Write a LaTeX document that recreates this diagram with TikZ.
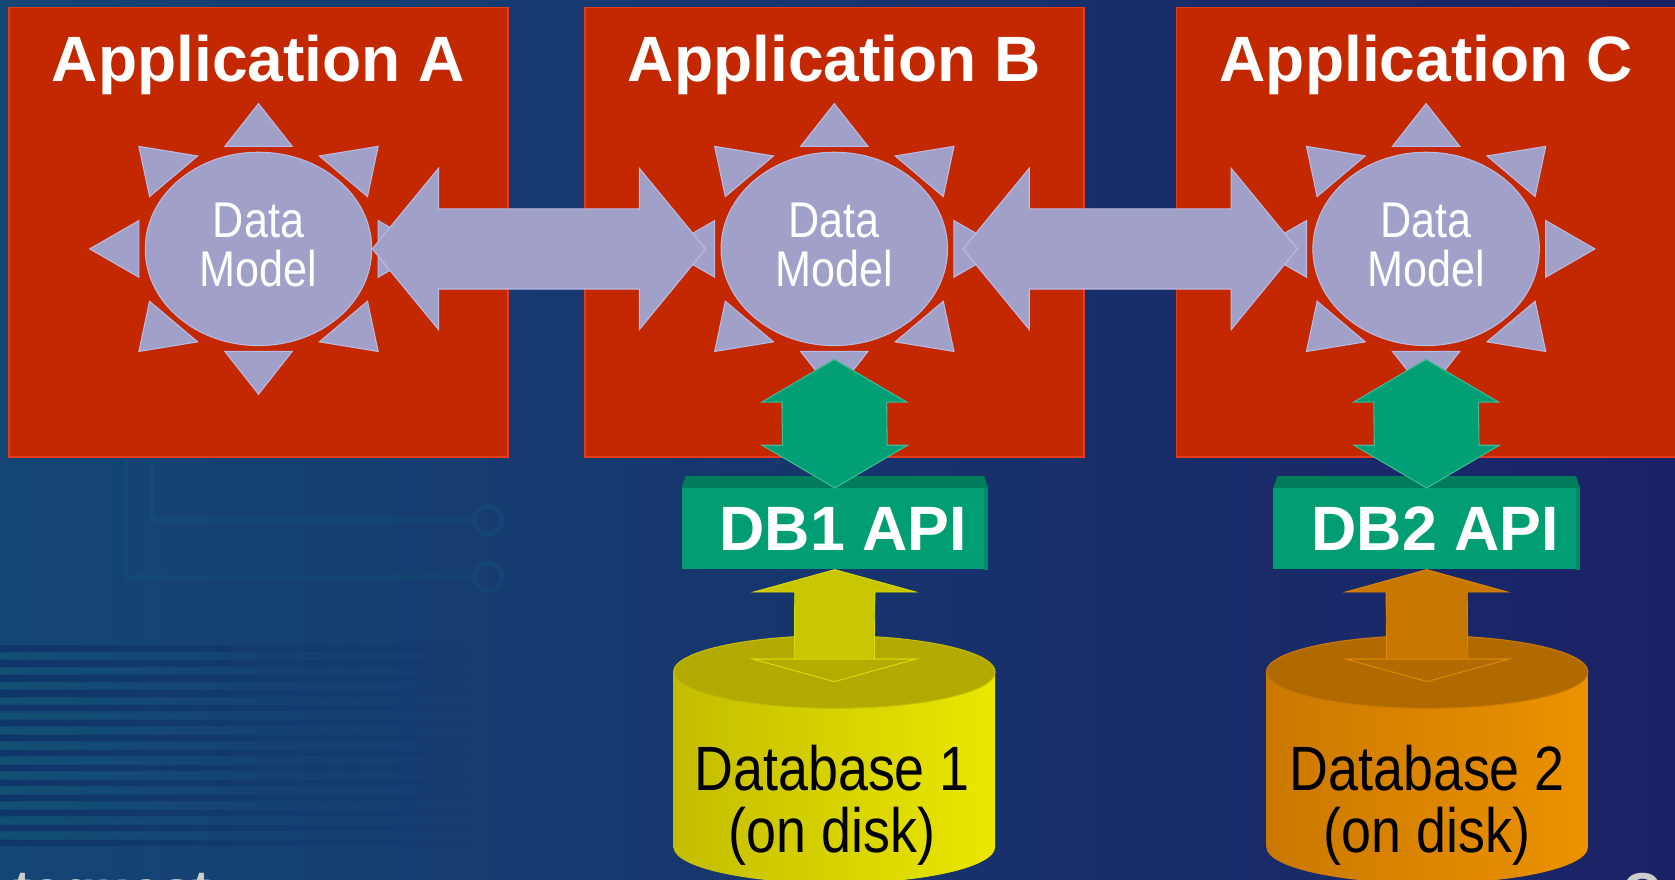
\documentclass[tikz,border=0pt]{standalone}
\usepackage{fontspec}
\setmainfont{Liberation Sans}
\newfontfamily\narrowfont[FakeStretch=0.86]{Liberation Sans}
\usetikzlibrary{shapes.geometric,calc,fadings}

\definecolor{bgleft}{RGB}{20,70,116}
\definecolor{bgright}{RGB}{26,34,102}
\definecolor{appred}{RGB}{196,40,0}
\definecolor{appedge}{RGB}{228,60,26}
\definecolor{lav}{RGB}{160,160,200}
\definecolor{lavedge}{RGB}{186,186,230}
\definecolor{apigreen}{RGB}{0,158,114}
\definecolor{apitop}{RGB}{0,124,90}
\definecolor{arrowgreen}{RGB}{0,160,116}
\definecolor{yelarrow}{RGB}{200,198,0}
\definecolor{yeltop}{RGB}{178,170,0}
\definecolor{yelside}{RGB}{196,188,0}
\definecolor{yellight}{RGB}{234,232,0}
\definecolor{orarrow}{RGB}{200,120,0}
\definecolor{ortop}{RGB}{176,106,0}
\definecolor{orside}{RGB}{202,120,0}
\definecolor{orlight}{RGB}{236,146,0}
\definecolor{stripeteal}{RGB}{16,96,116}
\definecolor{stripedark}{RGB}{8,26,84}
\definecolor{footgrey}{RGB}{205,205,205}

\begin{document}
\begin{tikzpicture}[x=1pt, y=-1pt,
  appbox/.style={fill=appred, draw=appedge, line width=1.5pt, minimum width=467pt, minimum height=421pt, inner sep=0pt},
  apptitle/.style={text=white, font=\fontsize{60}{72}\selectfont\bfseries, anchor=base, inner sep=0pt},
  model/.style={ellipse, fill=lav, draw=lavedge, line width=1pt, minimum width=212pt, minimum height=181pt,
    inner sep=0pt, text=white, align=center, text depth=7.5pt, font=\narrowfont\fontsize{47}{46}\selectfont},
  ray/.style={fill=lav, draw=lavedge, line width=1pt},
  lavarrow/.style={fill=lav, draw=lavedge, line width=1pt},
  apibox/.style={fill=apigreen, minimum width=287pt, minimum height=76pt, inner sep=0pt, text=white,
    font=\fontsize{58.7}{70}\selectfont\bfseries},
  dbtext/.style={align=center, inner sep=0pt, font=\narrowfont\fontsize{58.6}{58}\selectfont},
  hdarrow/.style n args={3}{to path={
    -- ($(\tikztostart)+(#1,-#2)$) -- ($(\tikztostart)+(#1,-#3)$)
    -- ($(\tikztotarget)+(-#1,-#3)$) -- ($(\tikztotarget)+(-#1,-#2)$)
    -- (\tikztotarget)
    -- ($(\tikztotarget)+(-#1,#2)$) -- ($(\tikztotarget)+(-#1,#3)$)
    -- ($(\tikztostart)+(#1,#3)$) -- ($(\tikztostart)+(#1,#2)$) -- cycle}},
  vdarrow/.style n args={3}{to path={
    -- ($(\tikztostart)+(#2,#1)$) -- ($(\tikztostart)+(#3,#1)$)
    -- ($(\tikztotarget)+(#3,-#1)$) -- ($(\tikztotarget)+(#2,-#1)$)
    -- (\tikztotarget)
    -- ($(\tikztotarget)+(-#2,-#1)$) -- ($(\tikztotarget)+(-#3,-#1)$)
    -- ($(\tikztostart)+(-#3,#1)$) -- ($(\tikztostart)+(-#2,#1)$) -- cycle}}]
\useasboundingbox (0,0) rectangle (1568,823);

% background
\shade[left color=bgleft, right color=bgright] (0,0) rectangle (1568,823);
\foreach \i in {0,...,13}
  \fill[stripedark, opacity=0.35, path fading=east] (0,604+14*\i) rectangle (440,610+14*\i);
\foreach \i in {0,...,12}
  \fill[stripeteal, opacity=0.4, path fading=east] (0,611+14*\i) rectangle (280,617+14*\i);
\draw[stripeteal, line width=4pt, opacity=0.25] (118,430) -- (118,540) -- (442,540) (457,540) circle[radius=13];
\draw[stripeteal, line width=4pt, opacity=0.25] (142,430) -- (142,487) -- (442,487) (457,487) circle[radius=13];

% application boxes
\node[appbox] (appA) at (242,217.5) {};
\node[appbox] (appB) at (781,217.5) {};
\node[appbox] (appC) at (1335,217.5) {};
\node[apptitle] (tA) at ($(appA.north)+(0,70)$) {Application A};
\node[apptitle] (tB) at ($(appB.north)+(0,70)$) {Application B};
\node[apptitle] (tC) at ($(appC.north)+(0,70)$) {Application C};

% data models
\node[model] (dmA) at (242,233) {Data\\Model};
\node[model] (dmB) at (781,233) {Data\\Model};
\node[model] (dmC) at (1335,233) {Data\\Model};
\foreach \m in {dmA,dmB,dmC}
  \foreach \sx in {-1,1} {
    \path[ray] ($(\m)+(\sx*112,-26.5)$) -- ($(\m)+(\sx*112,26.5)$) -- ($(\m)+(\sx*158,0)$) -- cycle;
    \path[ray] ($(\m)+(-31.5,\sx*96)$) -- ($(\m)+(31.5,\sx*96)$) -- ($(\m)+(0,\sx*136)$) -- cycle;
    \foreach \sy in {-1,1}
      \path[ray] ($(\m)+(\sx*112,\sy*96)$) -- ($(\m)+(\sx*57,\sy*87)$) -- ($(\m)+(\sx*102,\sy*49)$) -- cycle;
  }

% links between the models
\coordinate (abL) at (dmA.east);
\coordinate (abR) at ($(dmB.west)+(-14,0)$);
\coordinate (bcL) at ($(dmB.east)+(14,0)$);
\coordinate (bcR) at ($(dmC.west)+(-14,0)$);
\path[lavarrow] (abL) to[hdarrow={62}{75.5}{37.5}] (abR);
\path[lavarrow] (bcL) to[hdarrow={62}{75.5}{37.5}] (bcR);

% APIs
\node[apibox] (api1) at (781.5,495) {\hspace*{16pt}DB1 API};
\node[apibox] (api2) at (1335.5,495) {\hspace*{16pt}DB2 API};
\foreach \a in {api1,api2} {
  \fill[apitop] (\a.north west) -- ($(\a.north west)+(4,-11)$) -- ($(\a.north east)+(-4,-11)$) -- (\a.north east) -- cycle;
  \fill[apitop!60!apigreen] ($(\a.north east)+(-4,0)$) rectangle (\a.south east);
}
\coordinate (gB) at ($(dmB.south)+(0,12.5)$);
\coordinate (gC) at ($(dmC.south)+(0,12.5)$);
\path[fill=arrowgreen, draw=arrowgreen!75!white, line width=1pt] (gB) to[vdarrow={40}{68}{49}] (api1.north);
\path[fill=arrowgreen, draw=arrowgreen!75!white, line width=1pt] (gC) to[vdarrow={40}{68}{49}] (api2.north);

% databases
\coordinate (db1top) at (781,629);
\coordinate (db2top) at (1336,629);
\path[left color=yelside, right color=yellight] ($(db1top)+(-150.5,0)$) -- ++(0,164)
  .. controls ++(0,18.8) and ($(db1top)+(-83.1,198)$) .. ($(db1top)+(0,198)$)
  .. controls ($(db1top)+(83.1,198)$) and ($(db1top)+(150.5,182.8)$) .. ($(db1top)+(150.5,164)$) -- ($(db1top)+(150.5,0)$) -- cycle;
\path[left color=orside, right color=orlight] ($(db2top)+(-150.5,0)$) -- ++(0,164)
  .. controls ++(0,18.8) and ($(db2top)+(-83.1,198)$) .. ($(db2top)+(0,198)$)
  .. controls ($(db2top)+(83.1,198)$) and ($(db2top)+(150.5,182.8)$) .. ($(db2top)+(150.5,164)$) -- ($(db2top)+(150.5,0)$) -- cycle;
\path[fill=yeltop, draw=yelside, line width=1pt] (db1top) ellipse[x radius=150.5, y radius=34];
\path[fill=ortop, draw=orside, line width=1pt] (db2top) ellipse[x radius=150.5, y radius=34];

\coordinate (y1tip) at ($(db1top)+(0,9)$);
\coordinate (o2tip) at ($(db2top)+(0,9)$);
\path[fill=yelarrow, draw=yellight!60!yelarrow, line width=0.8pt] (api1.south) to[vdarrow={21}{76}{37.5}] (y1tip);
\path[fill=yeltop!90!yelarrow, draw=yellight!60!yelarrow, line width=0.8pt] ($(y1tip)+(-76,-21)$) -- ($(y1tip)+(76,-21)$) -- (y1tip) -- cycle;
\path[fill=orarrow, draw=orlight!60!orarrow, line width=0.8pt] (api2.south) to[vdarrow={21}{76}{38}] (o2tip);
\path[fill=ortop!90!orarrow, draw=orlight!60!orarrow, line width=0.8pt] ($(o2tip)+(-76,-21)$) -- ($(o2tip)+(76,-21)$) -- (o2tip) -- cycle;

\node[dbtext] (db1) at (779,753.4) {Database 1\\(on disk)};
\node[dbtext] (db2) at (1336,753.4) {Database 2\\(on disk)};

% footer, cut off by the page edge
\node[text=footgrey, anchor=base west, inner sep=0pt, font=\fontsize{52}{60}\selectfont\bfseries] (foot) at (12,851) {tequest};
\node[text=footgrey, anchor=base west, inner sep=0pt, font=\fontsize{50}{60}\selectfont\bfseries] (logo) at (1519,852) {C};
\end{tikzpicture}
\end{document}
